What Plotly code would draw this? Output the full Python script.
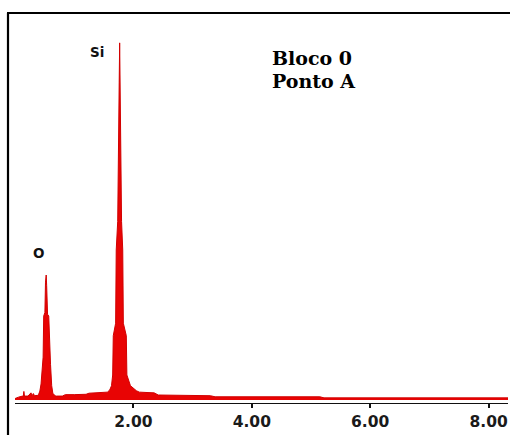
import plotly.graph_objects as go

# ---- data ----
energy_kev = [0.00, 0.02, 0.06, 0.10, 0.14, 0.15, 0.16, 0.22, 0.27, 0.29, 0.31, 0.33, 0.38,
              0.40, 0.42, 0.44, 0.46, 0.475, 0.485, 0.505, 0.515, 0.527, 0.535, 0.55, 0.57, 0.585,
              0.60, 0.62, 0.64, 0.68,
              0.70, 0.80, 0.85, 1.00, 1.20, 1.25, 1.40, 1.50,
              1.56, 1.60, 1.63, 1.65, 1.66, 1.70, 1.71, 1.735, 1.745, 1.76, 1.768, 1.775, 1.79,
              1.80, 1.82, 1.83, 1.88, 1.89, 1.95, 2.05, 2.10,
              2.20, 2.35, 2.42, 2.80, 3.30, 3.38, 4.00, 5.15, 5.22, 6.50, 8.33]
counts = [4, 6, 8, 10, 11, 24, 11, 11, 20, 12, 18, 12, 13,
          16, 25, 45, 110, 120, 235, 245, 330, 350, 320, 240, 235, 120,
          100, 40, 18, 12,
          11, 11, 15, 15, 16, 19, 20, 21,
          22, 28, 40, 70, 180, 215, 420, 500, 780, 890, 1000, 890, 780,
          500, 420, 215, 180, 70, 40, 26, 22,
          21, 20, 14, 13, 12, 9, 9, 9, 6, 6, 6]

tick_values = [2, 4, 6, 8]
tick_labels = ["2.00", "4.00", "6.00", "8.00"]

peak_labels = ["O", "Si"]
info_lines = ["Bloco 0", "Ponto A"]

# ---- layout geometry (pixels) ----
W, H = 510, 435
ML, MR, MT, MB = 15, 2, 13, 32
PW, PH = W - ML - MR, H - MT - MB


def px(x):
    return (x - ML) / PW


def py(y):
    return (H - MB - y) / PH


RED = "rgb(232,4,4)"

fig = go.Figure()
fig.add_trace(go.Scatter(
    x=energy_kev, y=counts, mode="lines",
    line=dict(color="rgb(210,0,0)", width=1),
    fill="tozeroy", fillcolor=RED,
    hoverinfo="x+y", showlegend=False,
))

annotations = [
    dict(text="<b>%s</b>" % peak_labels[0], x=px(38), y=py(252.5)),
    dict(text="<b>%s</b>" % peak_labels[1], x=px(96.5), y=py(52.5)),
]
for a in annotations:
    a.update(xref="paper", yref="paper", showarrow=False, xanchor="center", yanchor="middle",
             font=dict(family="DejaVu Sans", size=13.5, color="#111"))

for i, (txt, yy) in enumerate(zip(info_lines, [57.5, 80.5])):
    annotations.append(dict(
        text="<b>%s</b>" % txt, x=px(270), y=py(yy), xref="paper", yref="paper",
        showarrow=False, xanchor="left", yanchor="middle",
        font=dict(family="DejaVu Serif", size=19, color="#000"),
    ))

shapes = [
    dict(type="line", xref="paper", yref="paper", x0=px(8), x1=px(8), y0=py(13), y1=py(440),
         line=dict(color="black", width=2.2)),
    dict(type="line", xref="paper", yref="paper", x0=px(7), x1=px(515), y0=py(13), y1=py(13),
         line=dict(color="black", width=2.2)),
]

fig.update_layout(
    width=W, height=H,
    margin=dict(l=ML, r=MR, t=MT, b=MB, pad=0),
    paper_bgcolor="white", plot_bgcolor="white",
    showlegend=False,
    annotations=annotations,
    shapes=shapes,
    xaxis=dict(
        range=[0, PW / 59.2], showgrid=False, zeroline=False,
        showline=True, linecolor="#111", linewidth=1,
        ticks="outside", ticklen=4, tickwidth=2, tickcolor="#111",
        tickvals=tick_values, ticktext=tick_labels,
        tickfont=dict(family="DejaVu Sans", size=15.5, color="#1a1a1a", weight="bold"),
        fixedrange=True,
    ),
    yaxis=dict(
        range=[-3 * 2.8, (400 - MT) * 2.8], visible=False, fixedrange=True,
    ),
)

fig.write_html(
    "out.html",
    config={"displayModeBar": False},
    post_script="document.body.style.margin='0';document.body.style.overflow='hidden';",
)
